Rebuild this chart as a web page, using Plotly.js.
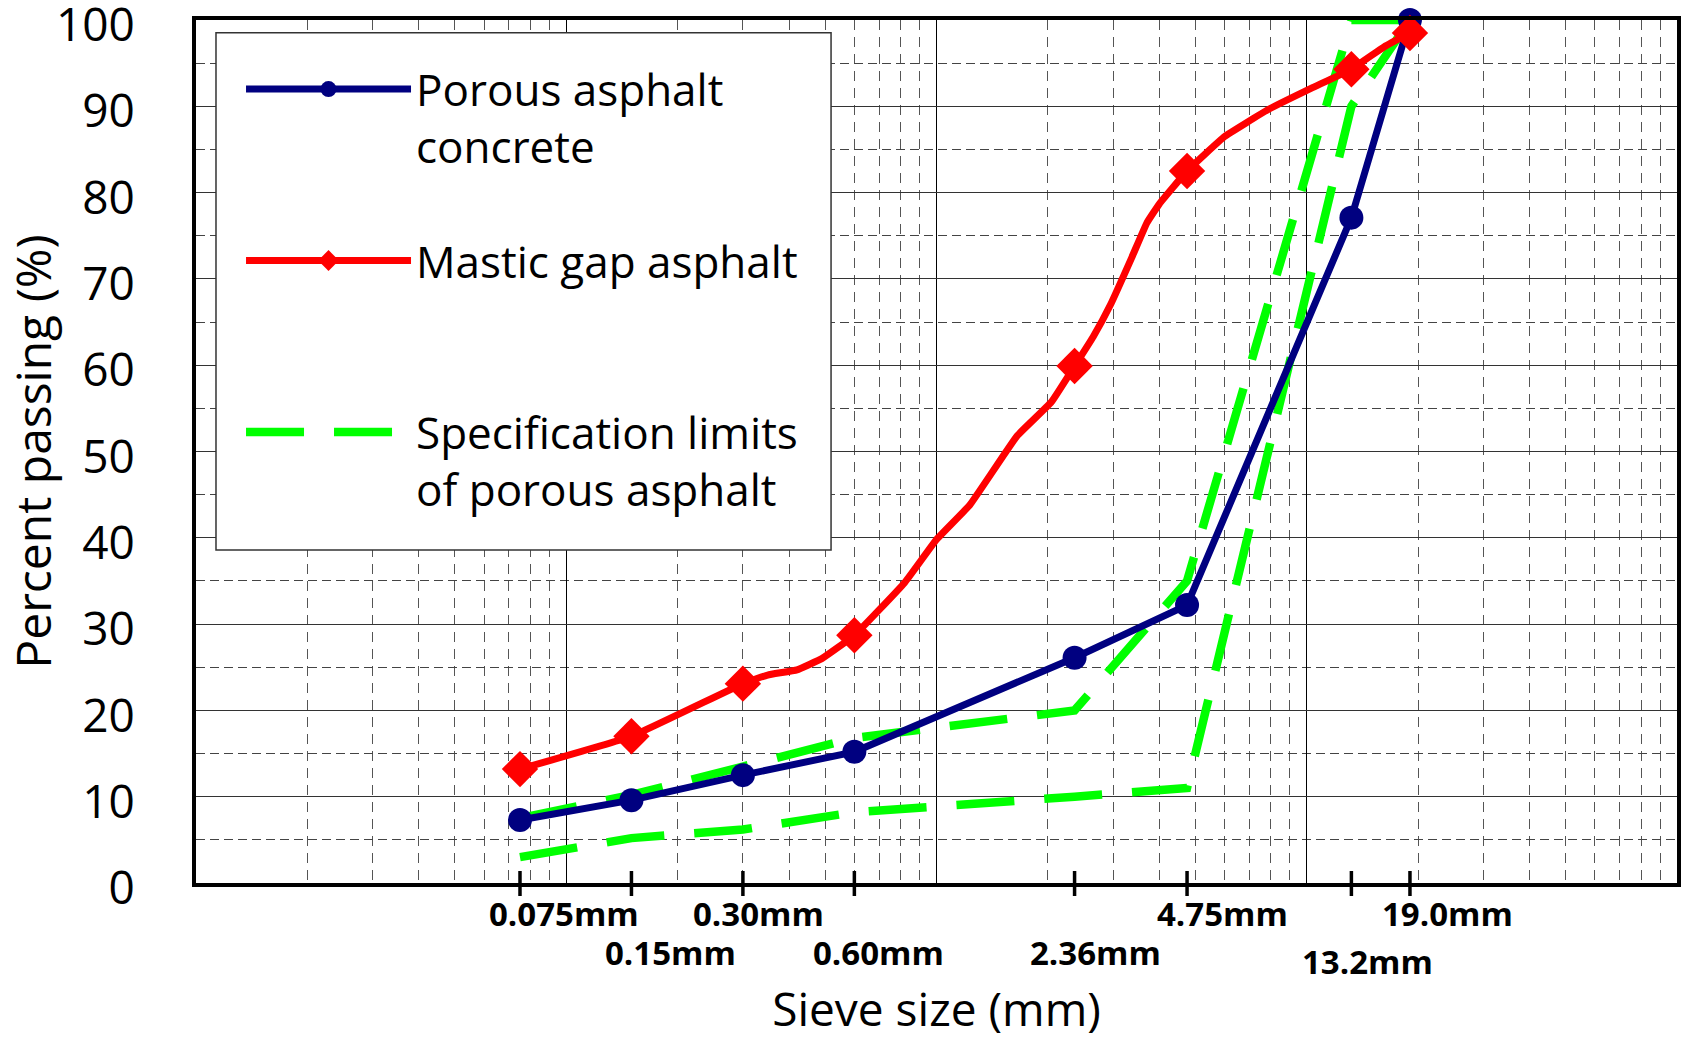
<!DOCTYPE html>
<html>
<head>
<meta charset="utf-8">
<script src="https://cdn.plot.ly/plotly-3.0.1.min.js"></script>
<style>html,body{margin:0;padding:0;background:#fff}#chart{width:1690px;height:1039px}</style>
</head>
<body>
<div id="chart"></div>
<script>
// ---- data ----
const sieveSizes  = [0.075, 0.15, 0.3, 0.6, 2.36, 4.75, 13.2, 19.0];
const sieveLabels = ['0.075mm', '0.15mm', '0.30mm', '0.60mm', '2.36mm', '4.75mm', '13.2mm', '19.0mm'];
const porousAC    = [7.3, 9.6, 12.5, 15.2, 26.1, 32.2, 77.1, 100];
const masticX     = [0.075, 0.15, 0.3, 0.35, 0.42, 0.49, 0.6, 0.82, 1.0, 1.23, 1.65, 2.04, 2.36, 2.65, 2.95, 3.37, 3.7, 4.0, 4.75, 6.0, 7.85, 10.3, 13.2, 16.2, 19.0];
const masticY     = [13.2, 17.0, 23.1, 24.1, 24.7, 26.0, 28.7, 34.8, 39.8, 43.8, 51.8, 55.7, 59.9, 63.3, 67.0, 72.5, 76.5, 78.7, 82.5, 86.5, 89.6, 92.1, 94.3, 96.9, 98.5];
const specUpper   = [7.5, 10.2, 13.5, 16.8, 20, 35, 100, 100];
const specLower   = [3.0, 5.2, 6.2, 8.2, 10, 11, 90, 100];

// ---- layout helpers (positions/styles, not data) ----
const labelRow    = [1, 2, 1, 2, 2, 1, 3, 1];
const labelShiftX = [44, 39, 16, 24, 21, 35, 16, 38];
const rowShiftY   = {1: -30, 2: -69, 3: -78};
const FONT = '"Open Sans", "Liberation Sans", sans-serif';
const RED = '#ff0000', NAVY = '#000080', GREEN = '#00ff00';

// markers only at the sieve sizes, the rest of the red curve is line only
const masticMarkerColor = masticX.map(v => sieveSizes.includes(v) ? RED : 'rgba(0,0,0,0)');

const minorX = [];
for (let e = -2; e < 2; e++) for (let d = 2; d <= 9; d++) minorX.push(d * Math.pow(10, e));

const traces = [
  {x: sieveSizes, y: specUpper, mode: 'lines', name: 'Specification limits<br>of porous asphalt',
   legendgroup: 'c', legendrank: 3, cliponaxis: false,
   line: {color: GREEN, width: 8.5, dash: '58px,30px'}},
  {x: sieveSizes, y: specLower, mode: 'lines', name: 'Specification limits (lower)',
   legendgroup: 'c', showlegend: false, cliponaxis: false,
   line: {color: GREEN, width: 8.5, dash: '58px,30px'}},
  {x: sieveSizes, y: porousAC, mode: 'lines+markers', name: 'Porous asphalt<br>concrete',
   legendgroup: 'a', legendrank: 1, cliponaxis: false,
   line: {color: NAVY, width: 7},
   marker: {symbol: 'circle', size: 24, color: NAVY, opacity: 1}},
  {x: masticX, y: masticY, mode: 'lines+markers', name: 'Mastic gap asphalt<br>\u00a0',
   legendgroup: 'b', legendrank: 2, cliponaxis: false,
   line: {color: RED, width: 7, shape: 'spline', smoothing: 0.3},
   marker: {symbol: 'diamond', size: 28, color: masticMarkerColor, opacity: 1}}
];

const shapes = sieveSizes.map(s => ({
  type: 'line', xref: 'x', yref: 'paper', x0: s, x1: s,
  ysizemode: 'pixel', yanchor: 0, y0: -13, y1: 12,
  line: {color: '#000', width: 3.5}, layer: 'above'
}));
// legend frame: white box hiding the grid behind the legend
shapes.push({
  type: 'rect', xref: 'paper', yref: 'paper',
  x0: 0.0135, x1: 0.4288, y0: 0.3859, y1: 0.9853,
  fillcolor: '#fff', line: {color: '#333', width: 1.5}, layer: 'above'
});

const annotations = sieveSizes.map((s, i) => ({
  xref: 'x', yref: 'paper', x: Math.log10(s), y: 0,
  text: sieveLabels[i], showarrow: false,
  xanchor: 'center', yanchor: 'middle',
  xshift: labelShiftX[i], yshift: rowShiftY[labelRow[i]],
  font: {family: FONT, size: 33, color: '#000', weight: 'bold'}
}));

const layout = {
  width: 1690, height: 1039,
  paper_bgcolor: '#fff', plot_bgcolor: '#fff',
  margin: {l: 196, r: 13, t: 20, b: 156},
  font: {family: FONT, color: '#000'},
  showlegend: true,
  legend: {
    x: 0.0304, y: 0.9606, xanchor: 'left', yanchor: 'top',
    bgcolor: 'rgba(0,0,0,0)', borderwidth: 0,
    font: {family: FONT, size: 44, color: '#000'},
    itemwidth: 165, tracegroupgap: 54, valign: 'top', traceorder: 'grouped'
  },
  xaxis: {
    type: 'log', range: [-2, 2], autorange: false,
    tickvals: [0.01, 0.1, 1, 10, 100], showticklabels: false, ticks: '',
    showgrid: true, gridcolor: '#000', gridwidth: 1,
    minor: {tickmode: 'array', tickvals: minorX, showgrid: true, gridcolor: '#555', griddash: '10px,7px', gridwidth: 1, ticks: ''},
    showline: true, linecolor: '#000', linewidth: 4, mirror: true, zeroline: false,
    title: {text: 'Sieve size (mm)', font: {family: FONT, size: 46, color: '#000'}, standoff: 112}
  },
  yaxis: {
    range: [0, 100], autorange: false,
    tickvals: [0, 10, 20, 30, 40, 50, 60, 70, 80, 90, 100],
    tickfont: {family: FONT, size: 46, color: '#000'},
    ticklabeloverflow: 'allow', ticklabelshift: 5,
    ticks: 'outside', ticklen: 48, tickcolor: 'rgba(0,0,0,0)',
    showgrid: true, gridcolor: '#333', gridwidth: 1,
    minor: {dtick: 5, showgrid: true, gridcolor: '#444', griddash: '9px,5px', gridwidth: 1, ticks: ''},
    showline: true, linecolor: '#000', linewidth: 4, mirror: true, zeroline: false,
    title: {text: 'Percent passing (%)', font: {family: FONT, size: 48, color: '#000'}, standoff: 6}
  },
  shapes: shapes,
  annotations: annotations
};

Plotly.newPlot('chart', traces, layout, {displayModeBar: false, staticPlot: true});
</script>
</body>
</html>
